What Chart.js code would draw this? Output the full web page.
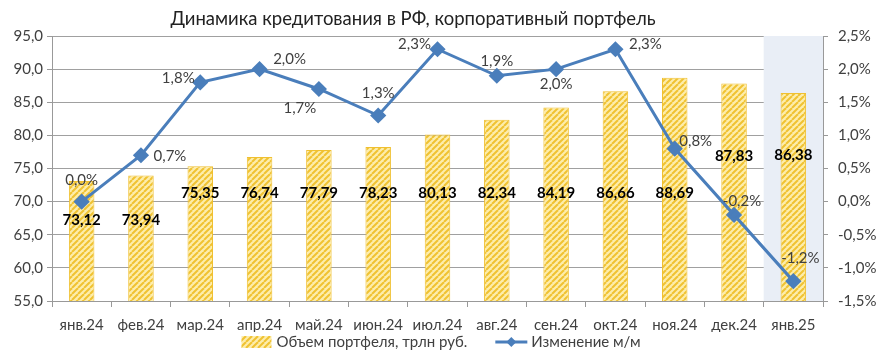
<!DOCTYPE html>
<html>
<head>
<meta charset="utf-8">
<script src="https://cdn.jsdelivr.net/npm/chart.js@4"></script>
<style>
  html, body { margin: 0; padding: 0; background: #fff; }
  #wrap { width: 893px; height: 364px; }
</style>
</head>
<body>
<div id="wrap"><canvas id="chart" width="893" height="364"></canvas></div>
<script>
const months = ["янв.24", "фев.24", "мар.24", "апр.24", "май.24", "июн.24", "июл.24", "авг.24", "сен.24", "окт.24", "ноя.24", "дек.24", "янв.25"]
const portfolio = [73.12, 73.94, 75.35, 76.74, 77.79, 78.23, 80.13, 82.34, 84.19, 86.66, 88.69, 87.83, 86.38]
const change = [0.0, 0.7, 1.8, 2.0, 1.7, 1.3, 2.3, 1.9, 2.0, 2.3, 0.8, -0.2, -1.2]

const TITLE = "Динамика кредитования в РФ, корпоративный портфель"
const FONT = "Lato, 'Noto Sans', sans-serif"
const TEXT = "#404040"
const BLUE = "#4a7ebb"

function comma(v, digits) {
  return v.toFixed(digits).replace(".", ",")
}

function hatch() {
  const c = document.createElement("canvas")
  c.width = 6
  c.height = 6
  const g = c.getContext("2d")
  g.fillStyle = "#fdedac"
  g.fillRect(0, 0, 6, 6)
  g.strokeStyle = "#f0c232"
  g.lineWidth = 2
  for (let k = -6; k <= 12; k += 6) {
    g.beginPath()
    g.moveTo(k, 6)
    g.lineTo(k + 6, 0)
    g.stroke()
  }
  return c
}

const ctx = document.getElementById("chart").getContext("2d")
const barPattern = ctx.createPattern(hatch(), "repeat")

// offsets of the % labels from their points, px
const changeLabelShift = [[0, -21], [29, 1], [-22, -4], [30, -10], [-19, 19], [0, -22], [-23, -5], [0, -15], [0, 15], [30, -5], [21, -7], [8, -14], [7, -23]]
// bar labels are placed by hand in the original, in left-axis units
const portfolioLabelAt = [67.2, 67.2, 71.3, 71.3, 71.3, 71.3, 71.3, 71.3, 71.3, 71.3, 71.3, 76.8, 77.0]

const title = {
  id: "title",
  afterDraw(chart) {
    const c = chart.ctx
    c.save()
    c.font = "18.5px " + FONT
    c.fillStyle = "#222"
    c.textAlign = "center"
    c.textBaseline = "middle"
    c.fillText(TITLE, 413, 19)
    c.restore()
  }
}

const legend = {
  id: "customLegend",
  afterDraw(chart) {
    const c = chart.ctx
    const sets = chart.data.datasets
    const barLabel = sets[1].label
    const lineLabel = sets[0].label
    const y = 342
    c.save()
    c.font = "15px " + FONT
    const w1 = c.measureText(barLabel).width
    const w2 = c.measureText(lineLabel).width
    const total = 30 + 5 + w1 + 28 + 32 + 4 + w2
    let x = 441 - total / 2

    c.fillStyle = barPattern
    c.fillRect(x, y - 6, 30, 12)
    x += 35
    c.fillStyle = TEXT
    c.textBaseline = "middle"
    c.fillText(barLabel, x, y)
    x += w1 + 28

    c.strokeStyle = BLUE
    c.lineWidth = 3
    c.beginPath()
    c.moveTo(x, y)
    c.lineTo(x + 32, y)
    c.stroke()
    c.fillStyle = BLUE
    c.beginPath()
    c.moveTo(x + 16, y - 5)
    c.lineTo(x + 21, y)
    c.lineTo(x + 16, y + 5)
    c.lineTo(x + 11, y)
    c.closePath()
    c.fill()
    x += 36
    c.fillStyle = TEXT
    c.fillText(lineLabel, x, y)
    c.restore()
  }
}

const highlight = {
  id: "highlight",
  beforeDatasetsDraw(chart) {
    const x = chart.scales.x
    const area = chart.chartArea
    const last = months.length - 1
    const half = (x.getPixelForValue(1) - x.getPixelForValue(0)) / 2
    const left = x.getPixelForValue(last) - half
    ctx.save()
    ctx.fillStyle = "#e9eef6"
    ctx.fillRect(left, area.top, area.right - left, area.bottom - area.top)
    ctx.restore()
  }
}

const labels = {
  id: "labels",
  afterDatasetsDraw(chart) {
    const c = chart.ctx
    const y = chart.scales.y
    c.save()
    c.textAlign = "center"
    c.textBaseline = "middle"
    c.fillStyle = "#000"
    c.font = "bold 15px " + FONT
    chart.getDatasetMeta(1).data.forEach(function (bar, i) {
      c.fillText(comma(portfolio[i], 2), bar.x, y.getPixelForValue(portfolioLabelAt[i]))
    })
    c.font = "15px " + FONT
    c.fillStyle = TEXT
    chart.getDatasetMeta(0).data.forEach(function (pt, i) {
      const s = changeLabelShift[i]
      c.fillText(comma(change[i], 1) + "%", pt.x + s[0], pt.y + s[1])
    })
    c.restore()
  }
}

new Chart(ctx, {
  data: {
    labels: months,
    datasets: [
      {
        type: "line",
        label: "Изменение м/м",
        data: change,
        yAxisID: "y2",
        borderColor: BLUE,
        backgroundColor: BLUE,
        borderWidth: 3,
        pointStyle: "rectRot",
        pointRadius: 6,
        pointHoverRadius: 6,
        tension: 0,
        order: 0,
      },
      {
        type: "bar",
        label: "Объем портфеля, трлн руб.",
        data: portfolio,
        yAxisID: "y",
        backgroundColor: barPattern,
        borderColor: "#f0c030",
        borderWidth: 1,
        barPercentage: 0.43,
        categoryPercentage: 1,
        order: 1,
      },
    ],
  },
  options: {
    responsive: false,
    animation: false,
    layout: { padding: { left: 0, right: 0, top: 36, bottom: 32 } },
    plugins: {
      title: { display: false },
      legend: { display: false },
      tooltip: { enabled: false },
    },
    scales: {
      x: {
        afterFit(s) { s.height = 31 },
        grid: { offset: true, drawOnChartArea: false, color: "#999", tickLength: 6 },
        border: { color: "#999" },
        ticks: { color: TEXT, font: { family: FONT, size: 15 }, padding: 9 },
      },
      y: {
        position: "left",
        min: 55,
        max: 95,
        afterFit(s) { s.width = 52 },
        border: { color: "#999" },
        grid: { color: "#a0a0a0", borderDash: [5, 4], tickBorderDash: [], tickLength: 5, tickColor: "#999" },
        ticks: { stepSize: 5, color: TEXT, font: { family: FONT, size: 15 }, padding: 4, callback: function (v) { return comma(v, 1) } },
      },
      y2: {
        position: "right",
        min: -1.5,
        max: 2.5,
        afterFit(s) { s.width = 70 },
        border: { color: "#999" },
        grid: { drawOnChartArea: false, tickLength: 5, color: "#999" },
        ticks: { stepSize: 0.5, color: TEXT, font: { family: FONT, size: 15 }, padding: 10, callback: function (v) { return comma(v, 1) + "%" } },
      },
    },
  },
  plugins: [highlight, labels, title, legend],
})
</script>
</body>
</html>
